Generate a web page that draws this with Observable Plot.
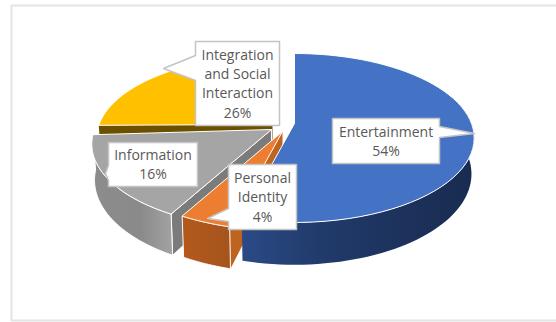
<!DOCTYPE html>
<html>
<head>
<meta charset="utf-8">
<script src="https://cdn.jsdelivr.net/npm/d3@7"></script>
<script src="https://cdn.jsdelivr.net/npm/@observablehq/plot@0.6"></script>
<style>
html, body { margin: 0; padding: 0; background: #fff; }
svg { display: block; }
</style>
</head>
<body>
<script>
const categories = ["Entertainment", "Personal\nIdentity", "Information", "Integration\nand Social\nInteraction"];
const shares = [54, 4, 16, 26];

const topColors = ["#4472c4", "#ed7d31", "#a5a5a5", "#ffc000"];
const wallColors = ["#1f3864", "#bf6420", "#7b7b7b", "#6b5000"];

// Screen layout of the tilted disc: perspective constants and per-slice pull-out.
const W = 556, H = 322;
const hub = [294, 123];
const radiusX = 177, radiusY = 82, perspective = 0.1716, thickness = 35, taper = 0.985;
const pull = [[0, 0], [-12, 8], [-23, 6], [-22, 1]];
const spin = [0, 0, 0, 3];
const shrink = [1, 1, 1, 0.98];

const total = d3.sum(shares);
const ends = d3.cumsum(shares).map(d => d / total * 360);

function project(deg, r, slice, drop) {
  const a = (deg + spin[slice]) * Math.PI / 180;
  const u = r * shrink[slice] * Math.sin(a), v = -r * shrink[slice] * Math.cos(a);
  const s = 1 / (1 - perspective * v);
  const t = drop ? taper : 1;
  const x = radiusX * u * s * t + pull[slice][0];
  const y = radiusY * v * s + (drop ? thickness * s : 0) + pull[slice][1];
  return {x: hub[0] + x, y: hub[1] + y};
}

function arc(a0, a1, slice, drop) {
  return d3.range(0, 61).map(i => project(a0 + (a1 - a0) * i / 60, 1, slice, drop));
}

const closed = pts => [...pts, pts[0]];

function topFace(i) {
  const a0 = i ? ends[i - 1] : 0, a1 = ends[i];
  return closed([project(0, 0, i, false), ...arc(a0, a1, i, false)]);
}
function rimFace(i, a0, a1) {
  return closed([...arc(a0, a1, i, false), ...arc(a0, a1, i, true).reverse()]);
}
function wallFace(i, deg) {
  return closed([project(0, 0, i, false), project(deg, 1, i, false), project(deg, 1, i, true), project(0, 0, i, true)]);
}

const face = (pts, fill, stroke = "none", strokeWidth = 1) =>
  Plot.line(pts, {x: "x", y: "y", fill, stroke, strokeWidth, curve: "linear"});

function gradient(id, stops) {
  const g = d3.create("svg:linearGradient").attr("id", id).attr("x1", 0).attr("x2", 1).attr("y1", 0).attr("y2", 0);
  stops.forEach(([o, c]) => g.append("stop").attr("offset", o).attr("stop-color", c));
  return g.node();
}
const gradients = () => {
  const defs = d3.create("svg:defs");
  defs.append(() => gradient("rimBlue", [[0, "#2b4a86"], [0.35, "#203a6a"], [1, "#192b50"]]));
  defs.append(() => gradient("rimOrange", [[0, "#b4591c"], [1, "#a5541e"]]));
  defs.append(() => gradient("rimGray", [[0, "#8c8c8c"], [0.6, "#8a8a8a"], [1, "#a3a3a3"]]));
  return defs.node();
};

// Callout boxes with their pointers, one per slice.
const callouts = [
  {i: 0, box: [332, 118, 439, 163], ptr: [[439, 126], [474, 133], [439, 137]]},
  {i: 1, box: [228, 164, 296, 229], ptr: [[228, 208], [207, 218], [228, 221]]},
  {i: 2, box: [108, 142, 197, 186], ptr: [[108, 165], [105, 173], [108, 180]]},
  {i: 3, box: [195, 41, 279, 125], ptr: [[195, 55], [163, 68], [195, 80]]}
];
function calloutPath({box: [x0, y0, x1, y1], ptr}) {
  const onLeft = ptr[0][0] === x0;
  const rim = onLeft
    ? [[x1, y0], [x1, y1], [x0, y1], ...[...ptr].reverse(), [x0, y0]]
    : [[x0, y0], [x1, y0], ...ptr, [x1, y1], [x0, y1]];
  return closed(rim.map(([x, y]) => ({x, y})));
}
const labels = callouts.map(c => ({
  x: (c.box[0] + c.box[2]) / 2,
  y: (c.box[1] + c.box[3]) / 2 - 1,
  text: `${categories[c.i]}\n${shares[c.i]}%`
}));

const chart = Plot.plot({
  width: W, height: H,
  margin: 0,
  x: {domain: [0, W], range: [0, W], axis: null},
  y: {domain: [0, H], range: [0, H], axis: null},
  marks: [
    gradients,
    // Card border around the chart area
    face(closed([{x: 11, y: 5}, {x: 560, y: 5}, {x: 560, y: 320}, {x: 11, y: 320}]), "none", "#e4e4e4", 2),

    // Yellow slice
    face(wallFace(3, ends[2]), wallColors[3]),
    face(topFace(3), topColors[3], "#fff"),

    // Gray slice
    face(wallFace(2, ends[1]), wallColors[2], "#fff"),
    face(rimFace(2, ends[1], ends[2]), "url(#rimGray)", "#fff"),
    face(topFace(2), topColors[2], "#fff"),

    // Orange slice
    face(wallFace(1, ends[0]), wallColors[1]),
    face(rimFace(1, ends[0], ends[1]), "url(#rimOrange)", "#fff"),
    face(topFace(1), topColors[1], "#fff"),

    // Blue slice
    face(rimFace(0, 70, ends[0]), "url(#rimBlue)"),
    face(topFace(0), topColors[0], "#fff"),

    // Callouts
    ...callouts.map(c => face(calloutPath(c), "#fff", "#c4c4c4", 1.5)),
    Plot.text(labels, {
      x: "x", y: "y", text: "text",
      fontFamily: "Open Sans", fontSize: 14, lineHeight: 1.38, fill: "#595959"
    })
  ]
});
document.body.append(chart);
</script>
</body>
</html>
